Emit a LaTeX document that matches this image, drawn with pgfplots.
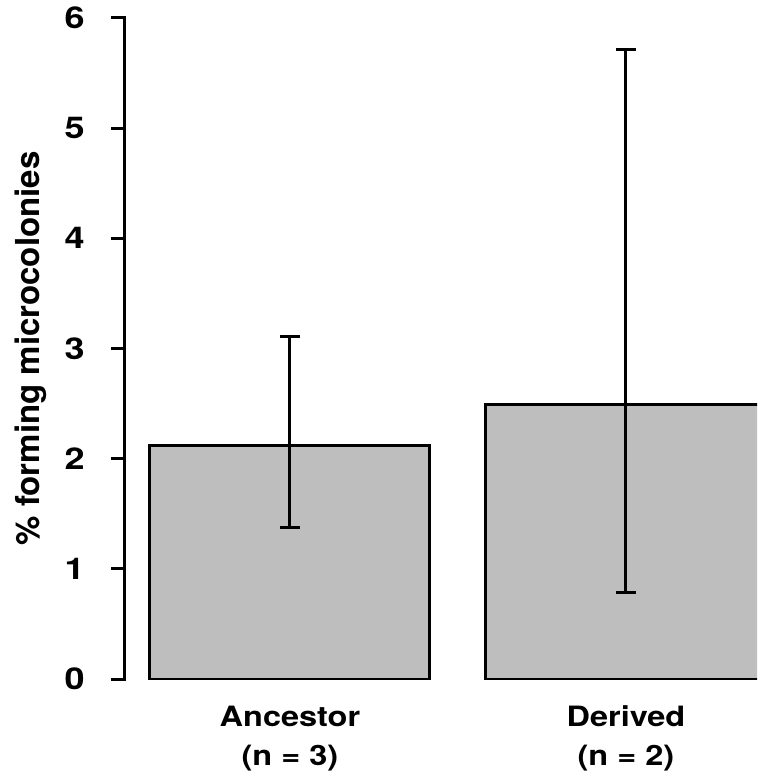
\documentclass[border=0pt]{standalone}
\usepackage{pgfplots}
\pgfplotsset{compat=1.18}
\usepackage{fontspec}
\setmainfont{TeX Gyre Heros}
\definecolor{rgray}{HTML}{BEBEBE}
\newcommand\tl[1]{\scalebox{1.2}[1]{#1}}
\newcommand\xl[2]{\scalebox{1.16}[1]{\begin{tabular}[t]{@{}c@{}}#1\\#2\end{tabular}}}
\begin{document}
\begin{tikzpicture}
\useasboundingbox (-62.5pt,-48pt) rectangle (316pt,339.5pt);
\begin{axis}[
  scale only axis,
  width=316pt, height=330.5pt,
  xmin=0.111, xmax=2.368, ymin=0, ymax=6,
  axis lines*=left,
  axis line style={-, line width=1.5pt, line cap=rect},
  x axis line style={draw=none},
  xtick={0.7,1.9},
  xticklabels={\xl{Ancestor}{(n = 3)},\xl{Derived}{(n = 2)}},
  xtick style={draw=none},
  xticklabel style={font=\fontsize{14pt}{19.5pt}\selectfont\bfseries, anchor=base, inner sep=0pt, yshift=-16.5pt},
  ytick={0,1,2,3,4,5,6},
  yticklabels={\tl{0},\tl{1},\tl{2},\tl{3},\tl{4},\tl{5},\tl{6}},
  tick align=outside,
  major tick length=7pt,
  ytick style={line width=1.5pt, black},
  yticklabel style={font=\fontsize{15pt}{18pt}\selectfont\bfseries, anchor=east, inner sep=0pt, xshift=-13pt},
  ylabel={\% forming microcolonies},
  ylabel style={font=\fontsize{16.5pt}{20pt}\selectfont\bfseries, at={(axis description cs:-0.1345,0.5)}, anchor=base, rotate=0},
  ybar, bar width=1,
  clip=true,
]
\addplot[fill=rgray, draw=black, line width=1.5pt,
  error bars/.cd, y dir=both, y explicit,
  error bar style={line width=1.5pt, black},
  error mark options={line width=1.5pt, mark size=5pt, rotate=90, black}]
coordinates {
  (0.7,2.124) += (0,0.989) -= (0,0.753)
  (1.9,2.496) += (0,3.222) -= (0,1.715)
};
\end{axis}
\end{tikzpicture}
\end{document}
